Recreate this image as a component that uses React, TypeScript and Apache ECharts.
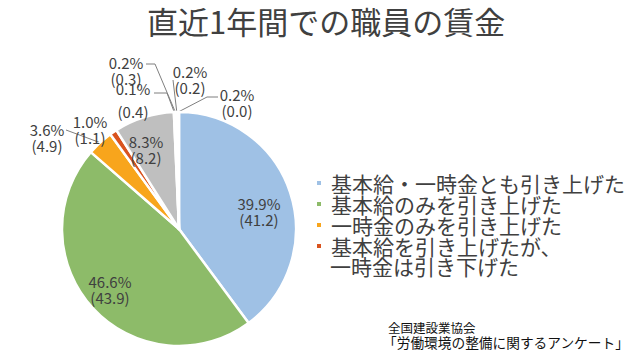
import React, { useEffect, useRef } from "react";
import * as echarts from "echarts";

const categories = [
  "基本給・一時金とも引き上げた",
  "基本給のみを引き上げた",
  "一時金のみを引き上げた",
  "基本給を引き上げたが、\n一時金は引き下げた",
  "基本給・一時金とも据え置いた",
  "基本給を引き下げたが、一時金は引き上げた",
  "一時金のみを引き下げた",
  "基本給のみを引き下げた",
  "基本給・一時金とも引き下げた",
];
const currentValues = [39.9, 46.6, 3.6, 1.0, 8.3, 0.1, 0.2, 0.2, 0.2];
const previousValues = [41.2, 43.9, 4.9, 1.1, 8.2, 0.4, 0.3, 0.2, 0.0];
const legendCategories = categories.slice(0, 4);
const titleText = "直近1年間での職員の賃金";
const sourceLines = ["全国建設業協会", "「労働環境の整備に関するアンケート」"];

const colors = ["#9FC1E5", "#8DBB69", "#F8A51C", "#D9531E", "#BFBFBF", "#F4F4F4", "#F4F4F4", "#F4F4F4", "#F4F4F4"];
const FONT = '"Noto Sans CJK JP", "Noto Sans", sans-serif';
const TEXT = "#404040";
const CX = 179;
const CY = 229;
const R = 117;

// label anchor (center of text block) per slice
const labelAnchor: Record<number, [number, number]> = {
  0: [259, 211],
  1: [110, 289],
  2: [47, 137],
  3: [90, 129],
  4: [146, 149],
  5: [133, 100],
  6: [126, 70],
  7: [190, 79],
  8: [237, 102],
};
// leader-line elbows (from slice edge to label)
const leaderElbows: Record<number, number[][]> = {
  2: [[66, 130]],
  5: [[167, 93], [154, 93]],
  6: [[155, 64], [146, 64]],
  7: [[173, 80]],
  8: [[207, 97], [218, 97]],
};
const insideIdx = new Set([0, 1, 4]);
const noLineIdx = new Set([0, 1, 3, 4]);

function edgePoint(i: number): number[] {
  const total = currentValues.reduce((a, b) => a + b, 0);
  let cum = 0;
  for (let k = 0; k < i; k++) cum += currentValues[k];
  const frac = (cum + currentValues[i] / 2) / total;
  const th = frac * Math.PI * 2;
  return [CX + R * Math.sin(th), CY - R * Math.cos(th)];
}

export default function App() {
  const ref = useRef<HTMLDivElement>(null);
  useEffect(() => {
    document.body.style.margin = "0";
    if (!ref.current) return;
    const chart = echarts.init(ref.current, undefined, { renderer: "svg" });
    const data = categories.map((name, i) => ({
      name,
      value: currentValues[i],
      itemStyle: { color: colors[i] },
      label: {
        position: insideIdx.has(i) ? "inside" : "outside",
        lineHeight: i === 5 ? 23 : 16,
      },
      labelLine: { show: !noLineIdx.has(i) },
    }));
    chart.setOption({
      animation: false,
      textStyle: { fontFamily: FONT },
      title: {
        text: titleText,
        left: 147,
        top: 3,
        padding: 0,
        textStyle: { fontSize: 31, lineHeight: 34, fontWeight: "normal", color: TEXT, fontFamily: FONT },
      },
      legend: {
        data: legendCategories,
        orient: "vertical",
        left: 315,
        top: 172.5,
        padding: 0,
        itemWidth: 6,
        itemHeight: 6,
        itemGap: 0,
        icon: "rect",
        selectedMode: false,
        formatter: (name: string) => name.split("\n")[0],
        textStyle: { fontSize: 21, lineHeight: 21, color: TEXT, fontFamily: FONT, padding: [0, 0, 0, 4] },
      },
      graphic: [
        {
          type: "text",
          left: 330,
          top: 255,
          style: { text: "一時金は引き下げた", fill: TEXT, font: `21px ${FONT}` },
        },
        {
          type: "text",
          left: 388,
          top: 321,
          style: { text: sourceLines[0], fill: "#111", font: `12.5px ${FONT}` },
        },
        {
          type: "text",
          left: 383,
          top: 335,
          style: { text: sourceLines[1], fill: "#111", font: `13.7px ${FONT}` },
        },
      ],
      series: [
        {
          type: "pie",
          center: [CX, CY],
          radius: R,
          startAngle: 90,
          clockwise: true,
          avoidLabelOverlap: false,
          itemStyle: { borderColor: "#fff", borderWidth: 2.5 },
          label: {
            show: true,
            fontSize: 15,
            color: TEXT,
            fontFamily: FONT,
            align: "center",
            formatter: (p: any) => `${p.value.toFixed(1)}%\n(${previousValues[p.dataIndex].toFixed(1)})`,
          },
          labelLine: { lineStyle: { color: "#7F7F7F", width: 1 }, length: 10, length2: 10 },
          labelLayout: (p: any) => {
            const i = p.dataIndex;
            const a = labelAnchor[i];
            const res: any = { x: a[0], y: a[1], align: "center", verticalAlign: "middle" };
            const el = leaderElbows[i];
            if (el) res.labelLinePoints = [edgePoint(i), ...el];
            return res;
          },
          data,
        },
      ],
    });
    return () => chart.dispose();
  }, []);
  return <div ref={ref} style={{ width: 640, height: 362 }} />;
}
